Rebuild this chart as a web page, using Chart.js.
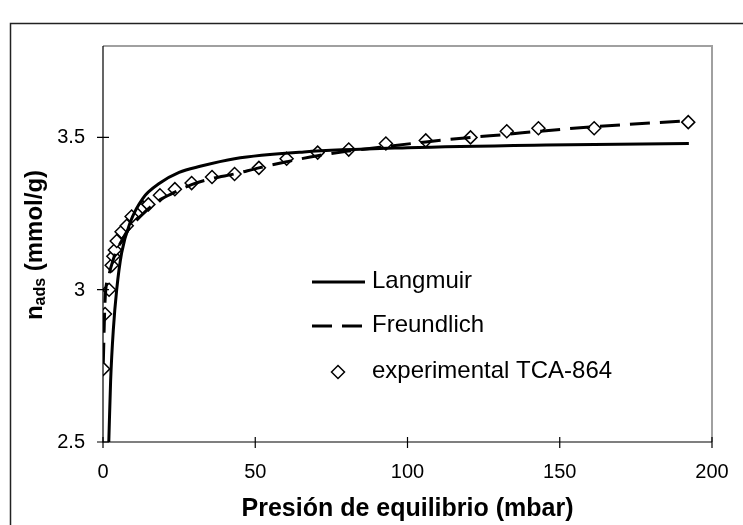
<!DOCTYPE html>
<html><head><meta charset="utf-8">
<script src="https://cdn.jsdelivr.net/npm/chart.js@4.4.0/dist/chart.umd.min.js"></script>
<style>html,body{margin:0;padding:0;background:#fff;}#wrap{width:743px;height:525px;}</style>
</head><body><div id="wrap"><canvas id="c" width="743" height="525"></canvas></div>
<script>
// ---- data ----
const xTicks = [0, 50, 100, 150, 200];
const yTicks = [2.5, 3, 3.5];
const seriesNames = ['Langmuir', 'Freundlich', 'experimental TCA-864'];
const xTitle = 'Presión de equilibrio (mbar)';
const yTitleMain = 'n', yTitleSub = 'ads', yTitleRest = ' (mmol/g)';

const expP = [0.1, 0.66, 2.0, 2.85, 3.4, 3.9, 4.5, 6.1, 7.8, 9.4, 13.2, 14.9, 18.7, 23.6, 29.1, 35.8, 43.2, 51.2, 60.3, 70.5, 80.7, 92.9, 106.0, 120.7, 132.6, 143.0, 161.3, 192.2];
const expN = [2.74, 2.92, 3.00, 3.08, 3.11, 3.13, 3.16, 3.19, 3.21, 3.24, 3.27, 3.28, 3.31, 3.33, 3.35, 3.37, 3.38, 3.40, 3.43, 3.45, 3.46, 3.48, 3.49, 3.50, 3.52, 3.53, 3.53, 3.55];

const langP = [1.6, 1.9, 2.5, 3.4, 4.5, 6.1, 8.9, 13.1, 18.7, 25.0, 31.9, 43.2, 66.0, 100.0, 145.5, 192.4];
const langN = [2.40, 2.50, 2.70, 2.87, 3.00, 3.12, 3.22, 3.30, 3.35, 3.385, 3.405, 3.43, 3.452, 3.466, 3.475, 3.48];

const freP = [0.1, 0.66, 2.0, 3.4, 4.5, 6.1, 7.8, 9.4, 13.2, 18.7, 23.6, 29.1, 35.8, 43.2, 51.2, 60.3, 70.5, 80.7, 92.9, 106.0, 120.7, 132.6, 143.0, 161.3, 192.2];
const freN = [2.76, 2.96, 3.05, 3.10, 3.13, 3.16, 3.19, 3.21, 3.25, 3.295, 3.32, 3.345, 3.365, 3.38, 3.40, 3.42, 3.44, 3.455, 3.47, 3.485, 3.50, 3.51, 3.52, 3.535, 3.555];

const FONT = "'Liberation Sans', Arial, sans-serif";
const toXY = (xs, ys) => xs.map((x, i) => ({x: x, y: ys[i]}));

const decor = {
  id: 'decor',
  beforeDraw(chart) {
    const ctx = chart.ctx;
    ctx.save();
    ctx.fillStyle = '#fff';
    ctx.fillRect(0, 0, chart.width, chart.height);
    ctx.restore();
  },
  beforeDatasetsDraw(chart) {
    const ctx = chart.ctx, a = chart.chartArea;
    ctx.save();
    ctx.strokeStyle = '#a0a0a0';
    ctx.lineWidth = 2;
    ctx.beginPath();
    ctx.moveTo(a.left, a.top); ctx.lineTo(a.right, a.top); ctx.lineTo(a.right, a.bottom);
    ctx.stroke();
    ctx.restore();
  },
  afterDraw(chart) {
    const ctx = chart.ctx, a = chart.chartArea;
    const xs = chart.scales.x, ys = chart.scales.y;
    ctx.save();
    // outer frame
    ctx.strokeStyle = '#222';
    ctx.lineWidth = 1.5;
    ctx.strokeRect(10.5, 23.5, 800, 600);
    // axes
    ctx.strokeStyle = '#000';
    ctx.lineWidth = 1.2;
    ctx.beginPath();
    ctx.moveTo(a.left, a.top); ctx.lineTo(a.left, a.bottom + 0.5);
    ctx.moveTo(a.left - 0.5, a.bottom); ctx.lineTo(a.right, a.bottom);
    ctx.stroke();
    // crossing tick marks
    ctx.beginPath();
    yTicks.forEach(v => { const y = ys.getPixelForValue(v); ctx.moveTo(a.left - 6, y); ctx.lineTo(a.left + 6, y); });
    xTicks.forEach(v => { const x = xs.getPixelForValue(v); ctx.moveTo(x, a.bottom - 5); ctx.lineTo(x, a.bottom + 6); });
    ctx.stroke();
    // tick labels
    ctx.fillStyle = '#000';
    ctx.font = '20px ' + FONT;
    ctx.textBaseline = 'middle';
    ctx.textAlign = 'center';
    xTicks.forEach(v => ctx.fillText(String(v), xs.getPixelForValue(v), a.bottom + 30.5));
    ctx.textAlign = 'right';
    yTicks.forEach(v => ctx.fillText(String(v), a.left - 18, ys.getPixelForValue(v) + 0.5));
    // x title
    ctx.font = 'bold 25px ' + FONT;
    ctx.textAlign = 'center';
    ctx.textBaseline = 'middle';
    ctx.fillText(xTitle, (a.left + a.right) / 2, 509);
    // y title with subscript
    ctx.save();
    ctx.translate(34, 245);
    ctx.rotate(-Math.PI / 2);
    const big = 'bold 24px ' + FONT, small = 'bold 16px ' + FONT;
    ctx.font = big; const w1 = ctx.measureText(yTitleMain).width, w3 = ctx.measureText(yTitleRest).width;
    ctx.font = small; const w2 = ctx.measureText(yTitleSub).width;
    let x0 = -(w1 + w2 + w3) / 2;
    ctx.textAlign = 'left';
    ctx.textBaseline = 'alphabetic';
    ctx.font = big; ctx.fillText(yTitleMain, x0, 8);
    ctx.font = small; ctx.fillText(yTitleSub, x0 + w1, 11);
    ctx.font = big; ctx.fillText(yTitleRest, x0 + w1 + w2, 8);
    ctx.restore();
    // legend
    const lx0 = 312, lx1 = 365, tx = 372;
    const rows = [281, 325, 371];
    ctx.strokeStyle = '#000';
    ctx.lineWidth = 3;
    ctx.beginPath(); ctx.moveTo(lx0, rows[0] + 1); ctx.lineTo(lx1, rows[0] + 1); ctx.stroke();
    ctx.setLineDash([20, 10]);
    ctx.beginPath(); ctx.moveTo(lx0, rows[1] + 1); ctx.lineTo(lx1, rows[1] + 1); ctx.stroke();
    ctx.setLineDash([]);
    ctx.lineWidth = 1.5;
    ctx.fillStyle = '#fff';
    const cx = 338, cy = rows[2] + 1, r = 6.5;
    ctx.beginPath(); ctx.moveTo(cx - r, cy); ctx.lineTo(cx, cy - r); ctx.lineTo(cx + r, cy); ctx.lineTo(cx, cy + r); ctx.closePath();
    ctx.fill(); ctx.stroke();
    ctx.fillStyle = '#000';
    ctx.font = '24px ' + FONT;
    ctx.textAlign = 'left';
    ctx.textBaseline = 'middle';
    seriesNames.forEach((s, i) => ctx.fillText(s, tx, rows[i]));
    ctx.restore();
  }
};

new Chart(document.getElementById('c'), {
  type: 'scatter',
  data: {
    datasets: [
      { label: seriesNames[0], data: toXY(langP, langN), showLine: true, borderColor: '#000', borderWidth: 3,
        pointRadius: 0, cubicInterpolationMode: 'monotone', fill: false },
      { label: seriesNames[1], data: toXY(freP, freN), showLine: true, borderColor: '#000', borderWidth: 3,
        borderDash: [20, 10], pointRadius: 0, cubicInterpolationMode: 'monotone', fill: false },
      { label: seriesNames[2], data: toXY(expP, expN), showLine: false, pointStyle: 'rectRot', pointRadius: 6.5,
        pointBorderWidth: 1.5, pointBorderColor: '#000', pointBackgroundColor: '#fff' }
    ]
  },
  options: {
    responsive: false, animation: false, devicePixelRatio: 1,
    layout: { padding: { left: 0, top: 46, right: 31, bottom: 0 } },
    plugins: { legend: { display: false }, tooltip: { enabled: false } },
    scales: {
      x: {
        type: 'linear', min: 0, max: 200, position: 'bottom',
        afterBuildTicks: s => { s.ticks = xTicks.map(v => ({ value: v })); },
        afterFit: s => { s.height = 83; },
        grid: { display: false, drawTicks: false }, border: { display: false },
        ticks: { display: false }
      },
      y: {
        type: 'linear', min: 2.5, max: 3.8, position: 'left',
        afterBuildTicks: s => { s.ticks = yTicks.map(v => ({ value: v })); },
        afterFit: s => { s.width = 103; },
        grid: { display: false, drawTicks: false }, border: { display: false },
        ticks: { display: false }
      }
    }
  },
  plugins: [decor]
});
</script>
</body></html>
